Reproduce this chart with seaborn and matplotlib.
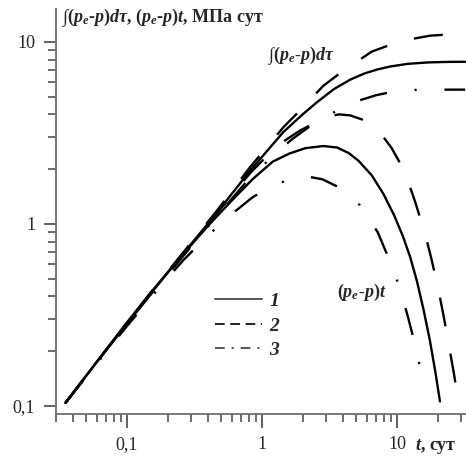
import matplotlib
matplotlib.use("Agg")
import matplotlib.pyplot as plt
import seaborn as sns
from matplotlib.lines import Line2D
from matplotlib.ticker import FixedLocator, FixedFormatter, LogLocator, NullFormatter

sns.set_theme(style="ticks")
plt.rcParams["font.family"] = ["Liberation Serif", "DejaVu Serif"]
plt.rcParams["mathtext.fontset"] = "custom"
plt.rcParams["mathtext.rm"] = "Liberation Serif:bold"
plt.rcParams["mathtext.it"] = "Liberation Serif:italic:bold"
plt.rcParams["mathtext.bf"] = "Liberation Serif:bold"
plt.rcParams["lines.scale_dashes"] = False

# ---- data ----
t_int1 = [0.035, 0.06, 0.1, 0.148, 0.262, 0.462, 0.815, 1.44, 2.0, 2.54, 3.4, 4.49, 5.7, 7.1, 8.9, 12, 17, 24, 32]
y_int1 = [0.104, 0.175, 0.285, 0.41, 0.69, 1.15, 1.96, 3.2, 4.0, 4.65, 5.5, 6.2, 6.7, 7.05, 7.33, 7.58, 7.72, 7.77, 7.78]

t_prod1 = [0.035, 0.06, 0.1, 0.15, 0.25, 0.4, 0.6, 0.85, 1.2, 1.6, 2.1, 2.85, 3.6, 4.4, 5.2, 6.5, 7.9,
           9.5, 11.1, 12.5, 14, 15.7, 17.5, 19.2, 20.8]
y_prod1 = [0.104, 0.176, 0.288, 0.42, 0.66, 0.98, 1.35, 1.76, 2.2, 2.44, 2.61, 2.68, 2.63, 2.45, 2.22,
           1.85, 1.47, 1.12, 0.85, 0.66, 0.49, 0.34, 0.23, 0.155, 0.106]

t_int2 = [0.035, 0.06, 0.1, 0.148, 0.262, 0.462, 0.815, 1.44, 1.97, 2.85, 4.0, 6.5, 10.2, 14, 17.5, 22, 28, 32]
y_int2 = [0.104, 0.175, 0.285, 0.415, 0.7, 1.18, 2.05, 3.4, 4.3, 5.75, 6.95, 8.85, 10.0, 10.5, 10.82, 10.95, 11.0, 11.0]

t_prod2 = [0.035, 0.06, 0.1, 0.148, 0.262, 0.462, 0.815, 1.05, 1.4, 1.9, 2.5, 3.1, 3.7, 4.5, 5.5, 6.5,
           7.8, 9.1, 10.5, 11.8, 13.6, 15.0, 16.5, 18.1, 20.2, 22, 24.2, 26.5, 28.3]
y_prod2 = [0.104, 0.175, 0.283, 0.405, 0.68, 1.14, 1.9, 2.3, 2.8, 3.25, 3.62, 3.88, 4.0, 3.95, 3.75, 3.48,
           3.05, 2.62, 2.17, 1.8, 1.33, 1.05, 0.83, 0.63, 0.44, 0.32, 0.217, 0.148, 0.108]

t_int3 = [0.035, 0.06, 0.1, 0.148, 0.262, 0.462, 0.815, 1.41, 1.7, 2.4, 3.3, 4.3, 5.4, 7.0, 9.4, 12, 14.8, 25, 32]
y_int3 = [0.104, 0.174, 0.28, 0.4, 0.67, 1.1, 1.8, 2.63, 2.95, 3.55, 4.05, 4.5, 4.8, 5.1, 5.33, 5.43, 5.46, 5.47, 5.47]

t_prod3 = [0.035, 0.06, 0.1, 0.184, 0.26, 0.37, 0.55, 0.86, 1.29, 1.7, 2.19, 2.8, 3.65, 5.3, 7.2, 8.9,
           10.5, 12.1, 14, 15.4]
y_prod3 = [0.104, 0.172, 0.275, 0.47, 0.63, 0.82, 1.08, 1.41, 1.66, 1.78, 1.82, 1.76, 1.6, 1.27, 0.90, 0.62,
           0.445, 0.305, 0.2, 0.14]

x_ticks = [0.1, 1, 10]
x_tick_labels = ["0,1", "1", "10"]
y_ticks = [0.1, 1, 10]
y_tick_labels = ["0,1", "1", "10"]
legend_labels = ["1", "2", "3"]

# ---- figure ----
W, H = 466, 462
fig = plt.figure(figsize=(W / 100, H / 100), dpi=100)
ax = fig.add_axes([56 / W, 1 - 414 / H, (W - 56) / W, 405 / H])

lw = 1.7
ls_solid = "-"
ls_dash = (0, (21, 20))
ls_dashdot = (0, (20, 20, 1.5, 20))

curves = [
    (t_int1, y_int1, ls_solid),
    (t_prod1, y_prod1, ls_solid),
    (t_int2, y_int2, ls_dash),
    (t_prod2, y_prod2, ls_dash),
    (t_int3, y_int3, ls_dashdot),
    (t_prod3, y_prod3, ls_dashdot),
]
for tx, yy, ls in curves:
    sns.lineplot(x=tx, y=yy, ax=ax, color="black", linewidth=lw, linestyle=ls,
                 sort=False, estimator=None, dash_capstyle="butt")

ax.set_xscale("log")
ax.set_yscale("log")
ax.set_xlim(10 ** -1.526, 10 ** 1.511)
ax.set_ylim(10 ** -1.044, 10 ** 1.181)

ax.xaxis.set_major_locator(FixedLocator(x_ticks))
ax.xaxis.set_major_formatter(FixedFormatter(x_tick_labels))
ax.yaxis.set_major_locator(FixedLocator(y_ticks))
ax.yaxis.set_major_formatter(FixedFormatter(y_tick_labels))
ax.xaxis.set_minor_locator(LogLocator(base=10, subs=range(2, 10)))
ax.yaxis.set_minor_locator(LogLocator(base=10, subs=range(2, 10)))
ax.xaxis.set_minor_formatter(NullFormatter())
ax.yaxis.set_minor_formatter(NullFormatter())

for s in ["top", "right"]:
    ax.spines[s].set_visible(False)
for s in ["left", "bottom"]:
    ax.spines[s].set_color("#6e6e6e")
    ax.spines[s].set_linewidth(1.3)

ax.tick_params(axis="x", which="major", direction="out", length=10, width=1.2, color="#444444",
               pad=6, labelsize=13)
ax.tick_params(axis="y", which="major", direction="out", length=9, width=1.2, color="#444444",
               pad=6, labelsize=13)
ax.tick_params(which="minor", direction="out", length=5.5, width=1.1, color="#444444")
for lab in ax.get_xticklabels() + ax.get_yticklabels():
    lab.set_fontfamily("Liberation Serif")
    lab.set_fontweight("normal")
ax.set_xlabel("")
ax.set_ylabel("")

# legend
handles = [
    Line2D([], [], color="#555555", lw=1.4, linestyle="-"),
    Line2D([], [], color="#222222", lw=1.4, linestyle=(0, (7, 4))),
    Line2D([], [], color="#555555", lw=1.4, linestyle=(0, (7, 5, 1.5, 5))),
]
leg = ax.legend(handles, legend_labels, frameon=False, loc="upper left",
                bbox_to_anchor=(0.388, 0.30), borderaxespad=0, borderpad=0,
                handlelength=2.4, handletextpad=0.4, labelspacing=0.35,
                prop={"family": "Liberation Serif", "weight": "bold", "style": "italic", "size": 14})

# annotations
ax.text(1.1, 8.4, r"$\int(p_e$-$p)d\tau$", fontsize=13, ha="left", va="center")
ax.text(3.6, 0.42, r"$(p_e$-$p)t$", fontsize=13, ha="left", va="center")
fig.text(62 / W, 1 - 18 / H, r"$\int(p_e$-$p)d\tau$, $(p_e$-$p)t$, МПа сут",
         fontsize=13, fontweight="bold", ha="left", va="center")
fig.text(415 / W, 1 - 446 / H, r"$t$, сут", fontsize=13, fontweight="bold", ha="left", va="center")

fig.savefig("out.png", dpi=100)
